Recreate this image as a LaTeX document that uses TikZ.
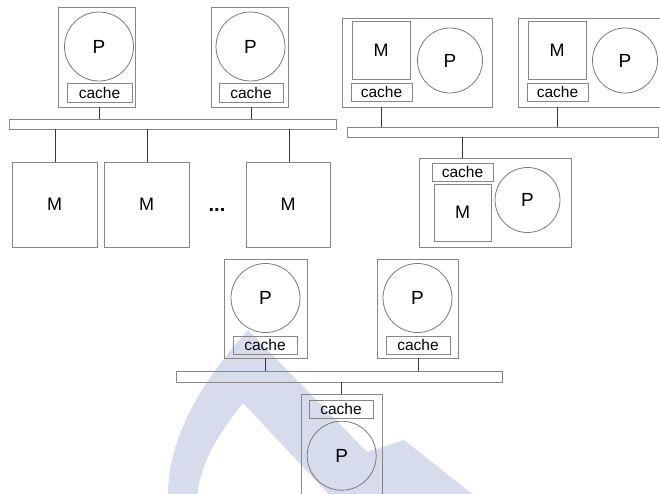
\documentclass[tikz,border=0pt]{standalone}
\usepackage{fontspec}
\setmainfont{Liberation Sans}
\definecolor{frame}{RGB}{135,135,135}
\definecolor{wire}{RGB}{55,55,55}
\definecolor{wmark}{RGB}{214,220,235}
\tikzset{
  box/.style={draw=frame, line width=0.9pt, rectangle, inner sep=0pt},
  proc/.style={draw=frame!90!black, line width=0.8pt, circle, inner sep=0pt,
    minimum size=#1, font=\fontsize{19}{21}\selectfont},
  cachebox/.style={box, font=\fontsize{15.5}{17}\selectfont},
  membox/.style={box, font=\fontsize{18}{20}\selectfont},
  bus/.style={box},
  wire/.style={draw=wire, line width=1pt},
}
\begin{document}
\begin{tikzpicture}[x=1pt,y=-1pt]
\clip (0,0) rectangle (660,493);
\useasboundingbox (0,0) rectangle (660,493);

% background mark
\fill[wmark] (168,500) .. controls (166,438) and (203,380) .. (248,330)
  -- (367,452) -- (404,440) -- (480,500) -- (334,500)
  -- (243,403) .. controls (220,432) and (198,465) .. (197,500) -- cycle;

% ---- shared memory: two processors, a bus, memory modules ----
\node[box, minimum width=77, minimum height=100] (pc1) at (96.5,57) {};
\node[proc=69] (p1) at (99,46.5) {P};
\node[cachebox, minimum width=65, minimum height=19] (c1) at (99.5,92.5) {cache};
\node[box, minimum width=77, minimum height=100] (pc2) at (249.5,57) {};
\node[proc=69] (p2) at (250.5,46.5) {P};
\node[cachebox, minimum width=64, minimum height=19] (c2) at (251,92.5) {cache};
\node[bus, minimum width=327, minimum height=10] (bus1) at (172.5,124) {};
\node[membox, minimum width=85, minimum height=85] (m1) at (54.5,204.5) {M};
\node[membox, minimum width=85, minimum height=85] (m2) at (146.5,204.5) {M};
\node[membox, minimum width=84, minimum height=85] (m3) at (288,204.5) {M};
\node[font=\fontsize{20}{22}\selectfont\bfseries, inner sep=0pt] (dots) at (217,210) {...};
\draw[wire] (c1.south |- pc1.south) -- (c1.south |- bus1.north);
\draw[wire] (c2.south |- pc2.south) -- (c2.south |- bus1.north);
\draw[wire] ([xshift=1pt]m1.north |- bus1.south) -- ([xshift=1pt]m1.north);
\draw[wire] ([xshift=1pt]m2.north |- bus1.south) -- ([xshift=1pt]m2.north);
\draw[wire] ([xshift=1pt]m3.north |- bus1.south) -- ([xshift=1pt]m3.north);

% ---- distributed memory: nodes with local memory on a bus ----
\node[box, minimum width=150, minimum height=89] (na) at (417,62.5) {};
\node[membox, minimum width=58, minimum height=58] (ma) at (381,50) {M};
\node[cachebox, minimum width=61, minimum height=18] (ca) at (381.5,92) {cache};
\node[proc=65] (pa) at (450,60.5) {P};
\node[box, minimum width=150, minimum height=89] (nb) at (593,62.5) {};
\node[membox, minimum width=58, minimum height=58] (mb) at (557,50) {M};
\node[cachebox, minimum width=61, minimum height=18] (cb) at (557.5,92) {cache};
\node[proc=65] (pb) at (625,60.5) {P};
\node[bus, minimum width=311, minimum height=10] (bus2) at (502.5,132) {};
\node[box, minimum width=152, minimum height=89] (nc) at (495,202.5) {};
\node[cachebox, minimum width=61, minimum height=18] (cc) at (462.5,172) {cache};
\node[membox, minimum width=57, minimum height=57] (mc) at (462.5,212.5) {M};
\node[proc=65] (pc) at (527.5,200) {P};
\draw[wire] (ca.south |- na.south) -- (ca.south |- bus2.north);
\draw[wire] (cb.south |- nb.south) -- (cb.south |- bus2.north);
\draw[wire] (cc.north |- bus2.south) -- (cc.north |- nc.north);

% ---- cache-only processors on a bus ----
\node[box, minimum width=83, minimum height=99] (nd) at (265.5,308.5) {};
\node[proc=69] (pd) at (265.5,298) {P};
\node[cachebox, minimum width=64, minimum height=18] (cd) at (265,345) {cache};
\node[box, minimum width=81, minimum height=99] (ne) at (417.5,308.5) {};
\node[proc=69] (pe) at (417.5,298) {P};
\node[cachebox, minimum width=64, minimum height=18] (ce) at (418,345) {cache};
\node[bus, minimum width=326, minimum height=11] (bus3) at (339,376.5) {};
\node[box, minimum width=81, minimum height=112] (nf) at (341.5,450) {};
\node[cachebox, minimum width=64, minimum height=18] (cf) at (341,409) {cache};
\node[proc=69] (pf) at (341.7,455.7) {P};
\draw[wire] (cd.south |- nd.south) -- (cd.south |- bus3.north);
\draw[wire] (ce.south |- ne.south) -- (ce.south |- bus3.north);
\draw[wire] (cf.north |- bus3.south) -- (cf.north |- nf.north);
\end{tikzpicture}
\end{document}
